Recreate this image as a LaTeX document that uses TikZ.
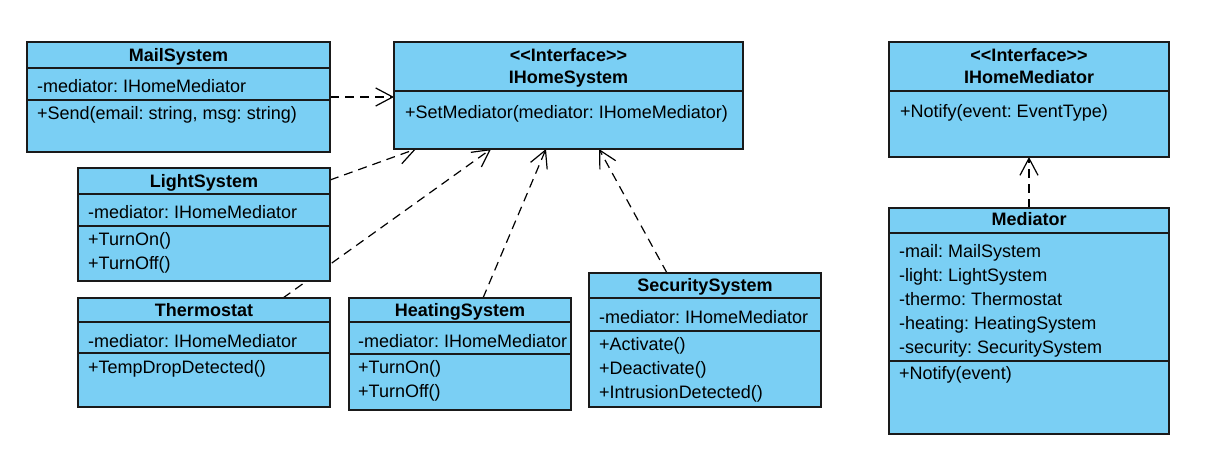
\documentclass[tikz,border=0pt]{standalone}
\usepackage{fontspec}
\setmainfont{Liberation Sans}
\usetikzlibrary{arrows.meta}
\definecolor{clsfill}{RGB}{122,207,244}
\definecolor{clsline}{RGB}{26,26,26}
\pgfdeclarelayer{bg}
\pgfsetlayers{bg,main}
\frenchspacing
\begin{document}
\begin{tikzpicture}[x=1pt,y=-1pt,
 cls/.style={draw=clsline, fill=clsfill, line width=1.2pt, rectangle, inner sep=0pt, outer sep=0pt},
 sepline/.style={draw=clsline, line width=1.2pt},
 txt/.style={anchor=west, inner sep=0pt, text height=12.9pt, text depth=0pt, font=\fontsize{18pt}{22pt}\selectfont},
 ttl/.style={anchor=center, inner sep=0pt, text height=12.9pt, text depth=0pt, font=\fontsize{18pt}{22pt}\selectfont\bfseries},
 dep/.style={draw=black, line width=1.2pt, dash pattern=on 9pt off 6pt, -{Straight Barb[length=17pt,width=18pt]}}
]
\useasboundingbox (0,0) rectangle (1207,457);

% MailSystem
\node[cls, minimum width=303pt, minimum height=110pt] (mail) at (178.5,97) {};
\draw[sepline] (mail.west |- 0,68) -- (mail.east |- 0,68);
\draw[sepline] (mail.west |- 0,100) -- (mail.east |- 0,100);
\node[ttl] (mailT) at (178.5,55) {MailSystem};
\node[txt] (mailA) at (37,86) {-mediator: IHomeMediator};
\node[txt] (mailO) at (37,113) {+Send(email: string, msg: string)};

% LightSystem
\node[cls, minimum width=252pt, minimum height=113pt] (light) at (204,224.5) {};
\draw[sepline] (light.west |- 0,194) -- (light.east |- 0,194);
\draw[sepline] (light.west |- 0,226) -- (light.east |- 0,226);
\node[ttl] (lightT) at (204,181) {LightSystem};
\node[txt] (lightA) at (88,212) {-mediator: IHomeMediator};
\node[txt] (lightO1) at (88,239) {+TurnOn()};
\node[txt] (lightO2) at (88,263) {+TurnOff()};

% Thermostat
\node[cls, minimum width=252pt, minimum height=109pt] (thermo) at (204,352.5) {};
\draw[sepline] (thermo.west |- 0,322) -- (thermo.east |- 0,322);
\draw[sepline] (thermo.west |- 0,353) -- (thermo.east |- 0,353);
\node[ttl] (thermoT) at (204,310) {Thermostat};
\node[txt] (thermoA) at (88,341) {-mediator: IHomeMediator};
\node[txt] (thermoO) at (88,367) {+TempDropDetected()};

% HeatingSystem
\node[cls, minimum width=222pt, minimum height=112pt] (heat) at (460,354) {};
\draw[sepline] (heat.west |- 0,322) -- (heat.east |- 0,322);
\draw[sepline] (heat.west |- 0,354) -- (heat.east |- 0,354);
\node[ttl] (heatT) at (460,310) {HeatingSystem};
\node[txt] (heatA) at (358,341) {-mediator: IHomeMediator};
\node[txt] (heatO1) at (358,367) {+TurnOn()};
\node[txt] (heatO2) at (358,391) {+TurnOff()};

% SecuritySystem
\node[cls, minimum width=232pt, minimum height=134pt] (sec) at (705,340) {};
\draw[sepline] (sec.west |- 0,298) -- (sec.east |- 0,298);
\draw[sepline] (sec.west |- 0,331) -- (sec.east |- 0,331);
\node[ttl] (secT) at (705,285) {SecuritySystem};
\node[txt] (secA) at (599,317) {-mediator: IHomeMediator};
\node[txt] (secO1) at (599,344) {+Activate()};
\node[txt] (secO2) at (599,368) {+Deactivate()};
\node[txt] (secO3) at (599,392) {+IntrusionDetected()};

% IHomeSystem
\node[cls, minimum width=349pt, minimum height=107pt] (ihs) at (568.5,95.5) {};
\draw[sepline] (ihs.west |- 0,91) -- (ihs.east |- 0,91);
\node[ttl] (ihsS) at (568.5,55) {<\kern0pt<Interface>\kern0pt>};
\node[ttl] (ihsT) at (568.5,77) {IHomeSystem};
\node[txt] (ihsO) at (405,112) {+SetMediator(mediator: IHomeMediator)};

% IHomeMediator
\node[cls, minimum width=280pt, minimum height=115pt] (ihm) at (1029,99.5) {};
\draw[sepline] (ihm.west |- 0,91) -- (ihm.east |- 0,91);
\node[ttl] (ihmS) at (1029,55) {<\kern0pt<Interface>\kern0pt>};
\node[ttl] (ihmT) at (1029,77) {IHomeMediator};
\node[txt] (ihmO) at (900,111) {+Notify(event: EventType)};

% Mediator
\node[cls, minimum width=280pt, minimum height=226pt] (med) at (1029,321) {};
\draw[sepline] (med.west |- 0,233) -- (med.east |- 0,233);
\draw[sepline] (med.west |- 0,361) -- (med.east |- 0,361);
\node[ttl] (medT) at (1029,219) {Mediator};
\node[txt] (medA1) at (899,251) {-mail: MailSystem};
\node[txt] (medA2) at (899,275) {-light: LightSystem};
\node[txt] (medA3) at (899,299) {-thermo: Thermostat};
\node[txt] (medA4) at (899,323) {-heating: HeatingSystem};
\node[txt] (medA5) at (899,347) {-security: SecuritySystem};
\node[txt] (medO) at (899,373) {+Notify(event)};

% connectors
\begin{pgfonlayer}{bg}
\draw[dep] (mail.east) -- (mail.east -| ihs.west);
\draw[dep] ([yshift=-12pt]light.north east) -- ([xshift=22pt]ihs.south west);
\draw[dep] ([xshift=79pt]thermo.north) -- ([xshift=97pt]ihs.south west);
\draw[dep] ([xshift=23pt]heat.north) -- ([xshift=152pt]ihs.south west);
\draw[dep] ([xshift=-38pt]sec.north) -- ([xshift=205pt]ihs.south west);
\draw[dep] (med.north) -- (ihm.south);
\end{pgfonlayer}
\end{tikzpicture}
\end{document}
